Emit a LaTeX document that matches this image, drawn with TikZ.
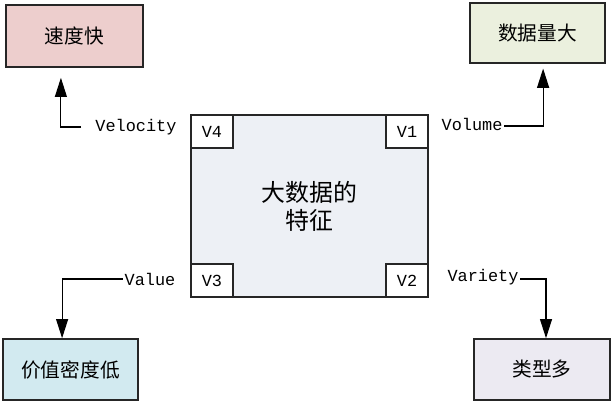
\documentclass[tikz,border=0pt]{standalone}
\usepackage{fontspec}
\setmonofont{Liberation Mono}
\newfontfamily\cjk{Noto Sans CJK SC}
\usetikzlibrary{arrows.meta,positioning}

\definecolor{speedfill}{RGB}{237,206,205}
\definecolor{volfill}{RGB}{235,240,222}
\definecolor{corefill}{RGB}{237,240,245}
\definecolor{valfill}{RGB}{210,234,240}
\definecolor{varfill}{RGB}{236,234,242}

\begin{document}
\begin{tikzpicture}[x=0.025cm,y=-0.025cm,>={Triangle[length=0.48cm,width=0.3cm]},
        box/.style={draw=black!85,line width=1.1pt,align=center,
              font=\cjk\fontsize{14}{17}\selectfont},
        vtag/.style={draw=black!85,line width=1.1pt,fill=white,inner sep=0pt,
              minimum width=1.05cm,minimum height=0.825cm,
              font=\ttfamily\fontsize{12}{14}\selectfont},
        tag/.style={inner sep=1pt,font=\ttfamily\fontsize{12}{14}\selectfont},
        link/.style={->,line width=0.8pt}]
        \useasboundingbox (0,0) rectangle (615,405);

        % center box and the four corner tags
        \node[box,fill=corefill,minimum width=5.925cm,minimum height=4.55cm,
              font=\cjk\fontsize{17}{20}\selectfont] (core) at (309.5,206)
              {大数据的\\特征};
        \node[vtag,anchor=north west] (v4) at (core.north west) {V4};
        \node[vtag,anchor=north east] (v1) at (core.north east) {V1};
        \node[vtag,anchor=south west] (v3) at (core.south west) {V3};
        \node[vtag,anchor=south east] (v2) at (core.south east) {V2};

        % outer boxes
        \node[box,fill=speedfill,minimum width=3.425cm,minimum height=1.55cm]
              (speed) at (74.5,36) {速度快};
        \node[box,fill=volfill,minimum width=3.375cm,minimum height=1.5cm]
              (size) at (537.5,33) {数据量大};
        \node[box,fill=valfill,minimum width=3.375cm,minimum height=1.525cm]
              (density) at (70.5,369.5) {价值密度低};
        \node[box,fill=varfill,minimum width=3.4cm,minimum height=1.525cm]
              (kinds) at (542,369.5) {类型多};

        % labels
        \node[tag] (velocity) at (136,127) {Velocity};
        \node[tag] (volume) at (472,124) {Volume};
        \node[tag] (value) at (150,279) {Value};
        \node[tag] (variety) at (483,277) {Variety};

        \draw[link,shorten <=0.32cm,shorten >=0.25cm]
              (velocity.west) -| ([xshift=-0.34cm]speed.south);
        \draw[link,shorten >=0.12cm]
              (volume.east |- 0,126) -| ([xshift=0.14cm]size.south);
        \draw[link] (value.west) -| ([xshift=-0.21cm]density.north);
        \draw[link] (variety.east |- 0,279) -| ([xshift=0.1cm]kinds.north);
    \end{tikzpicture}
\end{document}
